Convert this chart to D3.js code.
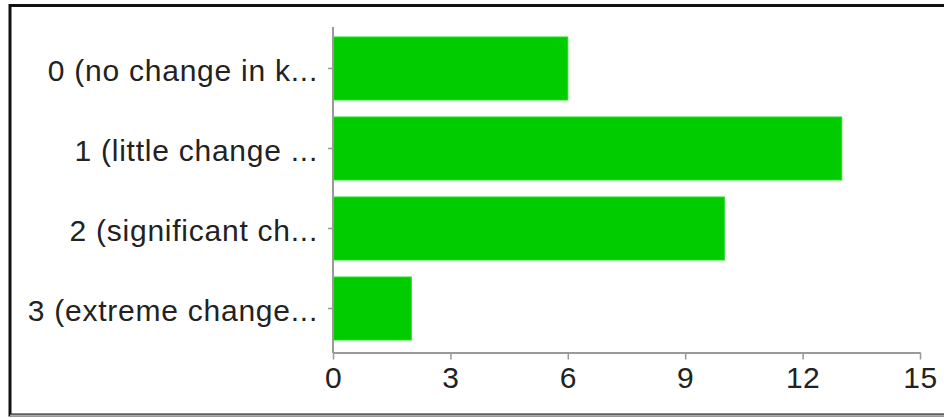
<!DOCTYPE html>
<html>
<head>
<meta charset="utf-8">
<script src="https://cdn.jsdelivr.net/npm/d3@7/dist/d3.min.js"></script>
<style>
  html, body { margin: 0; padding: 0; background: #fff; }
  svg { display: block; }
</style>
</head>
<body>
<svg id="chart" width="944" height="418"></svg>
<script>
// Responses per rating level
const categories = [
  "0 (no change in k...",
  "1 (little change ...",
  "2 (significant ch...",
  "3 (extreme change..."
];
const counts = [6, 13, 10, 2];
const xTicks = [0, 3, 6, 9, 12, 15];

const svg = d3.select("#chart");
const font = "'Liberation Sans', Arial, Helvetica, sans-serif";

// Frame around the chart
svg.append("rect")
  .attr("x", 10).attr("y", 5.5)
  .attr("width", 940).attr("height", 409.5)
  .attr("fill", "#fff")
  .attr("stroke", "#111").attr("stroke-width", 3);
svg.append("line")
  .attr("x1", 10).attr("x2", 944).attr("y1", 415.5).attr("y2", 415.5)
  .attr("stroke", "#aaa").attr("stroke-width", 2);

const x = d3.scaleLinear().domain([0, 15]).range([333, 920]);
const y = d3.scaleBand().domain(categories)
  .range([28.5, 348.5])
  .paddingInner(0.2125)
  .paddingOuter(0.106);

// Bars
svg.append("g").selectAll("rect")
  .data(categories)
  .join("rect")
  .attr("x", x(0) + 0.5)
  .attr("y", d => y(d))
  .attr("width", (d, i) => x(counts[i]) - x(0) - 0.5)
  .attr("height", y.bandwidth())
  .attr("fill", "#00cc00")
  .attr("stroke", "#22dd22")
  .attr("stroke-width", 1);

// Horizontal value axis
const xAxis = svg.append("g")
  .attr("transform", "translate(0,352.5)")
  .call(d3.axisBottom(x).tickValues(xTicks).tickSize(7).tickPadding(7).tickSizeOuter(0));
xAxis.select(".domain").attr("stroke", "#999").attr("stroke-width", 2);
xAxis.selectAll(".tick line").attr("stroke", "#999").attr("stroke-width", 1.5);
xAxis.selectAll(".tick text")
  .attr("fill", "#222")
  .style("font-family", font)
  .style("font-size", "30px")
  .style("letter-spacing", "0.5px");

// Vertical category axis
const yAxis = svg.append("g")
  .attr("transform", "translate(333,0)")
  .call(d3.axisLeft(y).tickSize(5).tickPadding(10).tickSizeOuter(0));
yAxis.select(".domain")
  .attr("d", "M0,27V353")
  .attr("stroke", "#999").attr("stroke-width", 2);
yAxis.selectAll(".tick line").attr("stroke", "#999").attr("stroke-width", 1.5);
yAxis.selectAll(".tick text")
  .attr("fill", "#222")
  .attr("dy", "0.42em")
  .style("font-family", font)
  .style("font-size", "30px")
  .style("letter-spacing", "0.75px");
</script>
</body>
</html>
